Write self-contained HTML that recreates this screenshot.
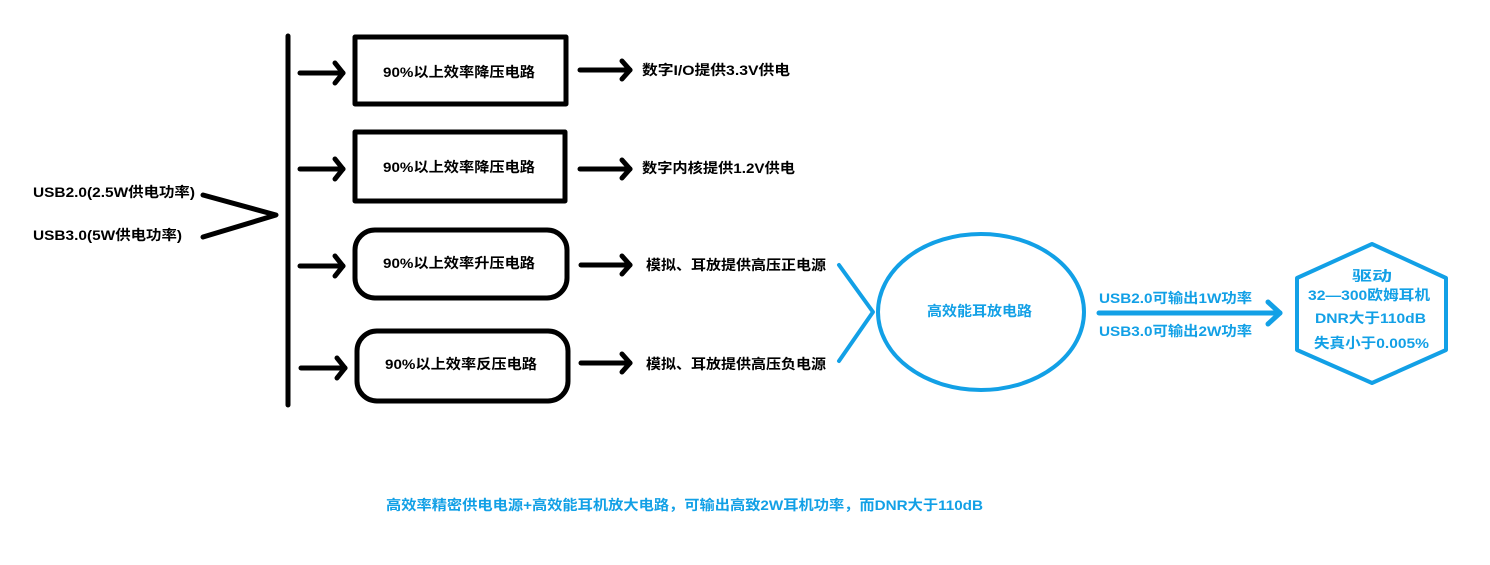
<!DOCTYPE html>
<html><head><meta charset="utf-8"><style>
body{margin:0;background:#fff;width:1490px;height:565px;overflow:hidden}
svg{display:block}
text{font-family:"Liberation Sans","Noto Sans CJK SC",sans-serif;font-weight:bold;font-size:14px}
.b{fill:#000}.c{fill:#12a0e6}
</style></head><body>
<svg width="1490" height="565" viewBox="0 0 1490 565">
<g stroke="#000" stroke-width="5" fill="none" stroke-linecap="round" stroke-linejoin="round">
<line x1="288" y1="36" x2="288" y2="405"/>
<polyline points="203,195 276,215 203,237"/>
<line x1="300" y1="73" x2="343" y2="73"/><polyline points="335,63 343,73 335,83"/>
<line x1="300" y1="169" x2="343" y2="169"/><polyline points="335,159 343,169 335,179"/>
<line x1="300" y1="266" x2="343" y2="266"/><polyline points="335,256 343,266 335,276"/>
<line x1="301" y1="368" x2="345" y2="368"/><polyline points="337,358 345,368 337,378"/>
<rect x="355" y="37" width="211" height="67"/>
<rect x="355" y="132" width="210" height="69"/>
<rect x="355" y="230" width="212" height="68" rx="20"/>
<rect x="357" y="331" width="211" height="70" rx="20"/>
<line x1="580" y1="70" x2="630" y2="70"/><polyline points="622,61 630,70 622,79"/>
<line x1="580" y1="169" x2="630" y2="169"/><polyline points="622,160 630,169 622,178"/>
<line x1="581" y1="265" x2="630" y2="265"/><polyline points="622,256 630,265 622,274"/>
<line x1="581" y1="363" x2="630" y2="363"/><polyline points="622,354 630,363 622,372"/>
</g>
<g stroke="#12a0e6" stroke-width="4" fill="none" stroke-linecap="round" stroke-linejoin="round">
<polyline points="839,265 873,312 839,361"/>
<ellipse cx="981" cy="312" rx="103" ry="78"/>
<line x1="1099" y1="313" x2="1280" y2="313" stroke-width="5"/>
<polyline points="1268,302 1280,313 1268,324" stroke-width="5"/>
<polygon points="1297,278 1372,244 1446,278 1446,350 1372,383 1297,350"/>
</g>
<text class="b" x="33" y="197" textLength="162" lengthAdjust="spacingAndGlyphs">USB2.0(2.5W供电功率)</text>
<text class="b" x="33" y="240" textLength="149" lengthAdjust="spacingAndGlyphs">USB3.0(5W供电功率)</text>
<text class="b" x="383" y="77" textLength="152" lengthAdjust="spacingAndGlyphs">90%以上效率降压电路</text>
<text class="b" x="383" y="172" textLength="152" lengthAdjust="spacingAndGlyphs">90%以上效率降压电路</text>
<text class="b" x="383" y="268" textLength="152" lengthAdjust="spacingAndGlyphs">90%以上效率升压电路</text>
<text class="b" x="385" y="369" textLength="152" lengthAdjust="spacingAndGlyphs">90%以上效率反压电路</text>
<text class="b" x="642" y="75" textLength="148" lengthAdjust="spacingAndGlyphs">数字I/O提供3.3V供电</text>
<text class="b" x="642" y="173" textLength="153" lengthAdjust="spacingAndGlyphs">数字内核提供1.2V供电</text>
<text class="b" x="646" y="270" textLength="180" lengthAdjust="spacingAndGlyphs">模拟、耳放提供高压正电源</text>
<text class="b" x="646" y="369" textLength="180" lengthAdjust="spacingAndGlyphs">模拟、耳放提供高压负电源</text>
<text class="c" x="927" y="316" textLength="105" lengthAdjust="spacingAndGlyphs">高效能耳放电路</text>
<text class="c" x="1099" y="303" textLength="153" lengthAdjust="spacingAndGlyphs">USB2.0可输出1W功率</text>
<text class="c" x="1099" y="336" textLength="153" lengthAdjust="spacingAndGlyphs">USB3.0可输出2W功率</text>
<text class="c" x="1352" y="281" textLength="40" lengthAdjust="spacingAndGlyphs">驱动</text>
<text class="c" x="1308" y="300" textLength="122" lengthAdjust="spacingAndGlyphs">32—300欧姆耳机</text>
<text class="c" x="1315" y="323" textLength="111" lengthAdjust="spacingAndGlyphs">DNR大于110dB</text>
<text class="c" x="1314" y="348" textLength="115" lengthAdjust="spacingAndGlyphs">失真小于0.005%</text>
<text class="c" x="386" y="510" textLength="597" lengthAdjust="spacingAndGlyphs">高效率精密供电电源+高效能耳机放大电路，可输出高致2W耳机功率，而DNR大于110dB</text>
</svg>
</body></html>
